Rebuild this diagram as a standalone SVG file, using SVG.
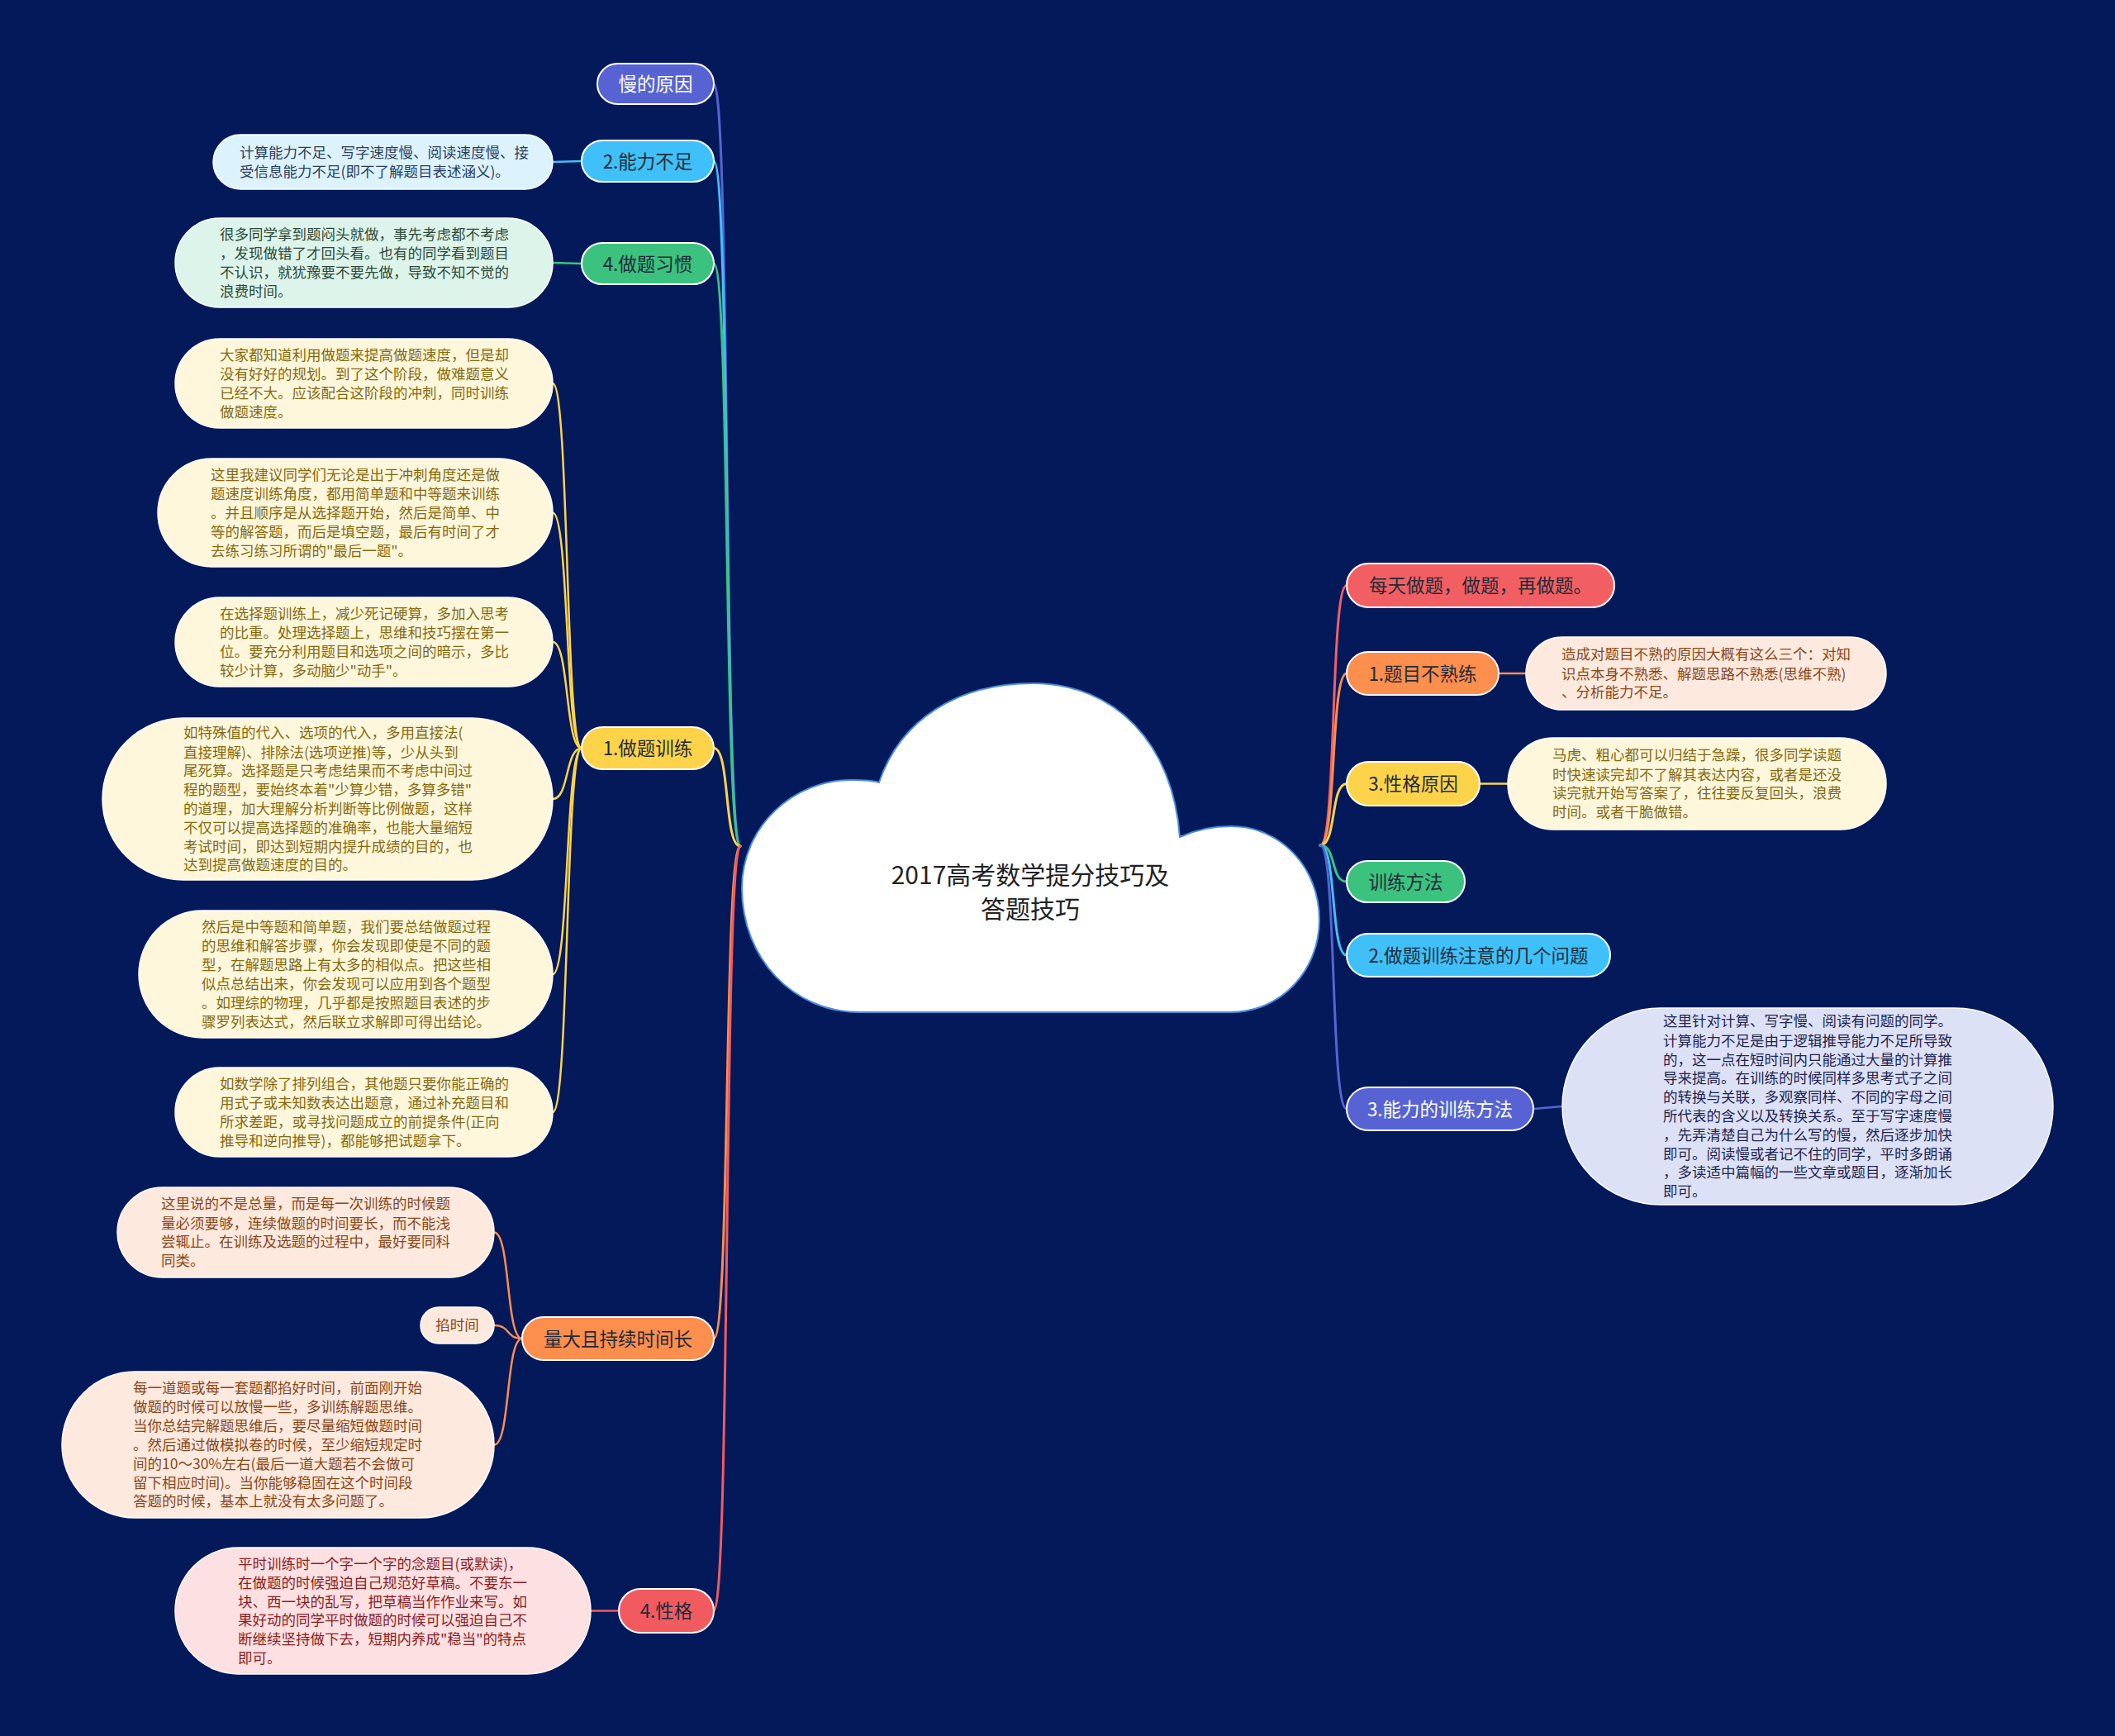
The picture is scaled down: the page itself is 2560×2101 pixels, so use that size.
<svg xmlns="http://www.w3.org/2000/svg" width="2560" height="2101" viewBox="0 0 2560 2101">
<style>
text{font-family:"Noto Sans CJK SC","Liberation Sans",sans-serif;dominant-baseline:central;transform:translateY(-1.5px)}
.br{font-size:22.5px;text-anchor:middle;fill:#1f2b3a}
.brw{font-size:22.5px;text-anchor:middle;fill:#ffffff}
.dt{font-size:17.5px}
.nb{stroke:#ffffff;stroke-width:2}
.db{stroke:#ffffff;stroke-width:1.5}
.c{fill:none;stroke-width:3;stroke-linecap:round}
.s{fill:none;stroke-width:2.5;stroke-linecap:round}
</style>
<rect width="2560" height="2101" fill="#03195a"/>

<g id="connectors">
  <path class="c" stroke="#5763d3" d="M896 1024 C876 1024 884 101.5 864 101.5"/>
  <path class="c" stroke="#40c0f8" d="M896 1024 C876 1024 884 195 864 195"/>
  <path class="c" stroke="#3cc27f" d="M896 1024 C876 1024 884 319 864 319"/>
  <path class="c" stroke="#fdd34a" d="M896 1024 C876 1024 884 905.5 864 905.5"/>
  <path class="c" stroke="#fc8e4e" d="M896 1024 C876 1024 884 1620 864 1620"/>
  <path class="c" stroke="#f15b5f" d="M896 1024 C876 1024 884 1949.5 864 1949.5"/>

  <path class="c" stroke="#f25f62" d="M1598 1023 C1618 1023 1610 708.5 1630 708.5"/>
  <path class="c" stroke="#fc8e4e" d="M1598 1023 C1618 1023 1610 815 1630 815"/>
  <path class="c" stroke="#fdd34a" d="M1598 1023 C1618 1023 1610 948.5 1630 948.5"/>
  <path class="c" stroke="#3cc27f" d="M1598 1023 C1618 1023 1610 1067 1630 1067"/>
  <path class="c" stroke="#40c0f8" d="M1598 1023 C1618 1023 1610 1156 1630 1156"/>
  <path class="c" stroke="#5763d3" d="M1598 1023 C1618 1023 1610 1342 1630 1342"/>

  <path class="s" stroke="#40c0f8" d="M704 195 L669 196"/>
  <path class="s" stroke="#3cc27f" d="M704 319 L669 318"/>
  <path class="s" stroke="#fdd34a" d="M704 905.5 C684 905.5 689 464 669 464"/>
  <path class="s" stroke="#fdd34a" d="M704 905.5 C684 905.5 689 620.5 669 620.5"/>
  <path class="s" stroke="#fdd34a" d="M704 905.5 C684 905.5 689 777 669 777"/>
  <path class="s" stroke="#fdd34a" d="M704 905.5 C684 905.5 689 967 669 967"/>
  <path class="s" stroke="#fdd34a" d="M704 905.5 C684 905.5 689 1179 669 1179"/>
  <path class="s" stroke="#fdd34a" d="M704 905.5 C684 905.5 689 1346 669 1346"/>
  <path class="s" stroke="#fc8e4e" d="M632 1620 C612 1620 618 1491.5 598 1491.5"/>
  <path class="s" stroke="#fc8e4e" d="M632 1620 C612 1620 618 1604 598 1604"/>
  <path class="s" stroke="#fc8e4e" d="M632 1620 C612 1620 618 1748.5 598 1748.5"/>
  <path class="s" stroke="#f15b5f" d="M749 1949.5 L715 1949.5"/>
  <path class="s" stroke="#fc8e4e" d="M1814 815 L1847 815"/>
  <path class="s" stroke="#fdd34a" d="M1791 948.5 L1825 948.5"/>
  <path class="s" stroke="#5763d3" d="M1856 1342 L1891 1339"/>
</g>

<g id="root">
  <path d="M1040 1225 C960 1225 898 1160 898 1075 C898 1000 960 944 1030 944 C1045 944 1058 945 1064 947 C1090 870 1160 827 1250 827 C1350 827 1420 900 1428 1013 C1450 1003 1470 1000 1490 1000 C1550 1000 1597 1050 1597 1113 C1597 1175 1550 1225 1490 1225 Z" fill="#ffffff" stroke="#4a8de0" stroke-width="2"/>
  <text x="1247" y="1058" font-size="30" text-anchor="middle" fill="#222222">2017高考数学提分技巧及</text>
  <text x="1247" y="1099" font-size="30" text-anchor="middle" fill="#222222">答题技巧</text>
</g>

<g id="n-manyuanyin">
  <rect class="nb" x="723" y="77" width="141" height="49" rx="24.5" fill="#5763d3"/>
  <text class="brw" x="793.5" y="101.5">慢的原因</text>
</g>
<g id="n-nengli">
  <rect class="nb" x="704" y="170" width="160" height="50" rx="25" fill="#40c0f8"/>
  <text class="br" x="784" y="195">2.能力不足</text>
</g>
<g id="d-nengli">
  <rect class="db" x="258" y="163" width="411" height="66" rx="33" fill="#dcf3fd"/>
  <text class="dt" fill="#2a3d5c" x="290" y="184.6">计算能力不足、写字速度慢、阅读速度慢、接<tspan x="290" dy="22.8">受信息能力不足(即不了解题目表述涵义)。</tspan></text>
</g>
<g id="n-xiguan">
  <rect class="nb" x="704" y="294" width="160" height="50" rx="25" fill="#3cc27f"/>
  <text class="br" x="784" y="319">4.做题习惯</text>
</g>
<g id="d-xiguan">
  <rect class="db" x="212" y="264" width="457" height="108" rx="54" fill="#ddf4ea"/>
  <text class="dt" fill="#2c4a3a" x="266" y="283.8">很多同学拿到题闷头就做，事先考虑都不考虑<tspan x="266" dy="22.8">，发现做错了才回头看。也有的同学看到题目</tspan><tspan x="266" dy="22.8">不认识，就犹豫要不要先做，导致不知不觉的</tspan><tspan x="266" dy="22.8">浪费时间。</tspan></text>
</g>
<g id="n-xunlian">
  <rect class="nb" x="704" y="880" width="160" height="51" rx="25.5" fill="#fdd34a"/>
  <text class="br" x="784" y="905.5">1.做题训练</text>
</g>
<g id="d-xl-a">
  <rect class="db" x="212" y="410" width="457" height="108" rx="54" fill="#fef7dc"/>
  <text class="dt" fill="#86690f" x="266" y="429.8">大家都知道利用做题来提高做题速度，但是却<tspan x="266" dy="22.8">没有好好的规划。到了这个阶段，做难题意义</tspan><tspan x="266" dy="22.8">已经不大。应该配合这阶段的冲刺，同时训练</tspan><tspan x="266" dy="22.8">做题速度。</tspan></text>
</g>
<g id="d-xl-b">
  <rect class="db" x="191" y="555" width="478" height="131" rx="65.5" fill="#fef7dc"/>
  <text class="dt" fill="#86690f" x="255" y="574.9">这里我建议同学们无论是出于冲刺角度还是做<tspan x="255" dy="22.8">题速度训练角度，都用简单题和中等题来训练</tspan><tspan x="255" dy="22.8">。并且顺序是从选择题开始，然后是简单、中</tspan><tspan x="255" dy="22.8">等的解答题，而后是填空题，最后有时间了才</tspan><tspan x="255" dy="22.8">去练习练习所谓的"最后一题"。</tspan></text>
</g>
<g id="d-xl-c">
  <rect class="db" x="212" y="723" width="457" height="108" rx="54" fill="#fef7dc"/>
  <text class="dt" fill="#86690f" x="266" y="742.8">在选择题训练上，减少死记硬算，多加入思考<tspan x="266" dy="22.8">的比重。处理选择题上，思维和技巧摆在第一</tspan><tspan x="266" dy="22.8">位。要充分利用题目和选项之间的暗示，多比</tspan><tspan x="266" dy="22.8">较少计算，多动脑少"动手"。</tspan></text>
</g>
<g id="d-xl-d">
  <rect class="db" x="124" y="869" width="545" height="196" rx="98" fill="#fef7dc"/>
  <text class="dt" fill="#86690f" x="222" y="887.2">如特殊值的代入、选项的代入，多用直接法(<tspan x="222" dy="22.8">直接理解)、排除法(选项逆推)等，少从头到</tspan><tspan x="222" dy="22.8">尾死算。选择题是只考虑结果而不考虑中间过</tspan><tspan x="222" dy="22.8">程的题型，要始终本着"少算少错，多算多错"</tspan><tspan x="222" dy="22.8">的道理，加大理解分析判断等比例做题，这样</tspan><tspan x="222" dy="22.8">不仅可以提高选择题的准确率，也能大量缩短</tspan><tspan x="222" dy="22.8">考试时间，即达到短期内提升成绩的目的，也</tspan><tspan x="222" dy="22.8">达到提高做题速度的目的。</tspan></text>
</g>
<g id="d-xl-e">
  <rect class="db" x="168" y="1102" width="501" height="154" rx="77" fill="#fef7dc"/>
  <text class="dt" fill="#86690f" x="244" y="1122">然后是中等题和简单题，我们要总结做题过程<tspan x="244" dy="22.8">的思维和解答步骤，你会发现即使是不同的题</tspan><tspan x="244" dy="22.8">型，在解题思路上有太多的相似点。把这些相</tspan><tspan x="244" dy="22.8">似点总结出来，你会发现可以应用到各个题型</tspan><tspan x="244" dy="22.8">。如理综的物理，几乎都是按照题目表述的步</tspan><tspan x="244" dy="22.8">骤罗列表达式，然后联立求解即可得出结论。</tspan></text>
</g>
<g id="d-xl-f">
  <rect class="db" x="212" y="1292" width="457" height="108" rx="54" fill="#fef7dc"/>
  <text class="dt" fill="#86690f" x="266" y="1311.8">如数学除了排列组合，其他题只要你能正确的<tspan x="266" dy="22.8">用式子或未知数表达出题意，通过补充题目和</tspan><tspan x="266" dy="22.8">所求差距，或寻找问题成立的前提条件(正向</tspan><tspan x="266" dy="22.8">推导和逆向推导)，都能够把试题拿下。</tspan></text>
</g>
<g id="n-liangda">
  <rect class="nb" x="632" y="1594" width="232" height="52" rx="26" fill="#fc8e4e"/>
  <text class="br" x="748" y="1620">量大且持续时间长</text>
</g>
<g id="d-ld-a">
  <rect class="db" x="142" y="1437" width="456" height="109" rx="54.5" fill="#fde9de"/>
  <text class="dt" fill="#8a4718" x="195" y="1457.3">这里说的不是总量，而是每一次训练的时候题<tspan x="195" dy="22.8">量必须要够，连续做题的时间要长，而不能浅</tspan><tspan x="195" dy="22.8">尝辄止。在训练及选题的过程中，最好要同科</tspan><tspan x="195" dy="22.8">同类。</tspan></text>
</g>
<g id="d-ld-b">
  <rect class="db" x="509" y="1582" width="89" height="44" rx="22" fill="#fde9de"/>
  <text class="dt" fill="#8a4718" x="553.5" y="1604" text-anchor="middle">掐时间</text>
</g>
<g id="d-ld-c">
  <rect class="db" x="75" y="1660" width="523" height="177" rx="88.5" fill="#fde9de"/>
  <text class="dt" fill="#8a4718" x="161" y="1680.1">每一道题或每一套题都掐好时间，前面刚开始<tspan x="161" dy="22.8">做题的时候可以放慢一些，多训练解题思维。</tspan><tspan x="161" dy="22.8">当你总结完解题思维后，要尽量缩短做题时间</tspan><tspan x="161" dy="22.8">。然后通过做模拟卷的时候，至少缩短规定时</tspan><tspan x="161" dy="22.8">间的10～30%左右(最后一道大题若不会做可</tspan><tspan x="161" dy="22.8">留下相应时间)。当你能够稳固在这个时间段</tspan><tspan x="161" dy="22.8">答题的时候，基本上就没有太多问题了。</tspan></text>
</g>
<g id="n-xingge">
  <rect class="nb" x="749" y="1923" width="115" height="53" rx="26.5" fill="#f15b5f"/>
  <text class="br" x="806.5" y="1949.5">4.性格</text>
</g>
<g id="d-xingge">
  <rect class="db" x="212" y="1873" width="503" height="153" rx="76.5" fill="#fde0e1"/>
  <text class="dt" fill="#8b1e25" x="288" y="1892.5">平时训练时一个字一个字的念题目(或默读)，<tspan x="288" dy="22.8">在做题的时候强迫自己规范好草稿。不要东一</tspan><tspan x="288" dy="22.8">块、西一块的乱写，把草稿当作作业来写。如</tspan><tspan x="288" dy="22.8">果好动的同学平时做题的时候可以强迫自己不</tspan><tspan x="288" dy="22.8">断继续坚持做下去，短期内养成"稳当"的特点</tspan><tspan x="288" dy="22.8">即可。</tspan></text>
</g>

<g id="n-meitian">
  <rect class="nb" x="1630" y="682" width="324" height="53" rx="26.5" fill="#f25f62"/>
  <text class="br" x="1792" y="708.5">每天做题，做题，再做题。</text>
</g>
<g id="n-bushulian">
  <rect class="nb" x="1630" y="789" width="184" height="52" rx="26" fill="#fc8e4e"/>
  <text class="br" x="1722" y="815">1.题目不熟练</text>
</g>
<g id="d-bushulian">
  <rect class="db" x="1847" y="771" width="436" height="88" rx="44" fill="#fde9de"/>
  <text class="dt" fill="#8a4718" x="1890" y="792.2">造成对题目不熟的原因大概有这么三个：对知<tspan x="1890" dy="22.8">识点本身不熟悉、解题思路不熟悉(思维不熟)</tspan><tspan x="1890" dy="22.8">、分析能力不足。</tspan></text>
</g>
<g id="n-xinggeyuanyin">
  <rect class="nb" x="1630" y="922" width="161" height="53" rx="26.5" fill="#fdd34a"/>
  <text class="br" x="1710.5" y="948.5">3.性格原因</text>
</g>
<g id="d-xinggeyuanyin">
  <rect class="db" x="1825" y="893" width="458" height="111" rx="55.5" fill="#fef7dc"/>
  <text class="dt" fill="#86690f" x="1879" y="914.3">马虎、粗心都可以归结于急躁，很多同学读题<tspan x="1879" dy="22.8">时快速读完却不了解其表达内容，或者是还没</tspan><tspan x="1879" dy="22.8">读完就开始写答案了，往往要反复回头，浪费</tspan><tspan x="1879" dy="22.8">时间。或者干脆做错。</tspan></text>
</g>
<g id="n-xunlianfangfa">
  <rect class="nb" x="1630" y="1042" width="143" height="50" rx="25" fill="#3cc27f"/>
  <text class="br" x="1701.5" y="1067">训练方法</text>
</g>
<g id="n-zhuyi">
  <rect class="nb" x="1630" y="1130" width="319" height="52" rx="26" fill="#40c0f8"/>
  <text class="br" x="1789.5" y="1156">2.做题训练注意的几个问题</text>
</g>
<g id="n-nenglifangfa">
  <rect class="nb" x="1630" y="1316" width="226" height="52" rx="26" fill="#5763d3"/>
  <text class="brw" x="1743" y="1342">3.能力的训练方法</text>
</g>
<g id="d-nenglifangfa">
  <rect class="db" x="1891" y="1220" width="594" height="238" rx="119" fill="#dde1f5"/>
  <text class="dt" fill="#1e2552" x="2013" y="1236.4">这里针对计算、写字慢、阅读有问题的同学。<tspan x="2013" dy="22.8">计算能力不足是由于逻辑推导能力不足所导致</tspan><tspan x="2013" dy="22.8">的，这一点在短时间内只能通过大量的计算推</tspan><tspan x="2013" dy="22.8">导来提高。在训练的时候同样多思考式子之间</tspan><tspan x="2013" dy="22.8">的转换与关联，多观察同样、不同的字母之间</tspan><tspan x="2013" dy="22.8">所代表的含义以及转换关系。至于写字速度慢</tspan><tspan x="2013" dy="22.8">，先弄清楚自己为什么写的慢，然后逐步加快</tspan><tspan x="2013" dy="22.8">即可。阅读慢或者记不住的同学，平时多朗诵</tspan><tspan x="2013" dy="22.8">，多读适中篇幅的一些文章或题目，逐渐加长</tspan><tspan x="2013" dy="22.8">即可。</tspan></text>
</g>
</svg>
